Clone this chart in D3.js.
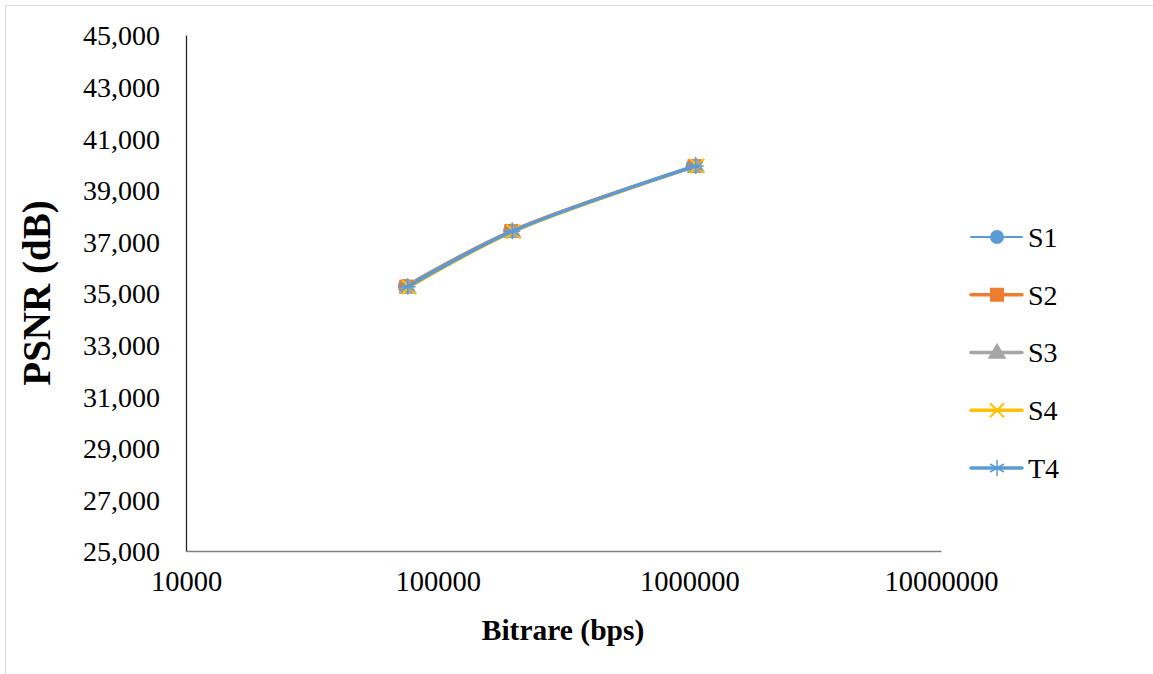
<!DOCTYPE html>
<html>
<head>
<meta charset="utf-8">
<script src="https://cdn.jsdelivr.net/npm/d3@7"></script>
<style>
  body { margin: 0; background: #fff; }
</style>
</head>
<body>
<div id="chart"></div>
<script>
// data
var seriesNames = ["S1", "S2", "S3", "S4", "T4"];
var seriesColors = ["#5b9bd5", "#ed7d31", "#a5a5a5", "#ffc000", "#5b9bd5"];
var seriesWidths = [2, 3, 3, 3, 3.5];
var bitrates = [
  [74000, 194000, 1030000],
  [75000, 196000, 1050000],
  [76000, 198000, 1060000],
  [77000, 200000, 1075000],
  [76000, 198000, 1060000]
];
var psnr = [
  [35.27, 37.40, 39.92],
  [35.25, 37.40, 39.92],
  [35.22, 37.38, 39.92],
  [35.22, 37.38, 39.92],
  [35.24, 37.39, 39.92]
];
var xTicks = [10000, 100000, 1000000, 10000000];
var yTicks = [25, 27, 29, 31, 33, 35, 37, 39, 41, 43, 45];

(function() {
var W = 1153, H = 674;
var mLeft = 186, mRight = 941, mTop = 35, mBottom = 551;
var serif = "'Liberation Serif', 'Times New Roman', Tinos, 'DejaVu Serif', serif";

var svg = d3.select("#chart").append("svg")
  .attr("width", W).attr("height", H);

// chart border
svg.append("rect")
  .attr("x", 5.5).attr("y", 5.5)
  .attr("width", W + 10).attr("height", H + 10)
  .attr("fill", "#fff").attr("stroke", "#d9d9d9").attr("stroke-width", 1);

var x = d3.scaleLog().domain([10000, 10000000]).range([mLeft, mRight]);
var y = d3.scaleLinear().domain([25, 45]).range([mBottom, mTop]);

// y axis
var yAxis = svg.append("g")
  .attr("transform", "translate(" + mLeft + ",0)")
  .call(d3.axisLeft(y).tickValues(yTicks).tickSize(0).tickPadding(26)
    .tickFormat(function(d) { return d3.format(",")(d * 1000); }));
yAxis.attr("font-family", serif);
yAxis.select(".domain").attr("stroke", "#262626").attr("stroke-width", 1.3);
yAxis.selectAll("text").attr("font-size", 28).attr("dy", "0.35em")
  .attr("fill", "#000").style("font-family", serif);

// x axis
var xAxis = svg.append("g")
  .attr("transform", "translate(0," + mBottom + ")")
  .call(d3.axisBottom(x).tickValues(xTicks).tickSize(0).tickPadding(20)
    .tickFormat(d3.format("d")));
xAxis.attr("font-family", serif);
xAxis.select(".domain").attr("stroke", "#808080").attr("stroke-width", 1.5);
xAxis.selectAll("text").attr("font-size", 28.5).attr("dy", "0.71em")
  .attr("fill", "#000").style("font-family", serif);

// axis titles
svg.append("text")
  .attr("x", 563).attr("y", 640)
  .attr("text-anchor", "middle")
  .style("font-family", serif)
  .attr("font-size", 29.5).attr("font-weight", "bold")
  .text("Bitrare (bps)");

svg.append("text")
  .attr("transform", "translate(50,293) rotate(-90)")
  .attr("text-anchor", "middle")
  .style("font-family", serif)
  .attr("font-size", 39).attr("font-weight", "bold")
  .text("PSNR (dB)");

var line = d3.line()
  .x(function(d) { return x(d[0]); })
  .y(function(d) { return y(d[1]); })
  .curve(d3.curveCatmullRom.alpha(0.5));

function drawMarker(g, i, cx, cy) {
  var c = seriesColors[i];
  if (i === 0) {
    g.append("circle").attr("cx", cx).attr("cy", cy).attr("r", 7).attr("fill", c);
  } else if (i === 1) {
    g.append("rect").attr("x", cx - 7).attr("y", cy - 7)
      .attr("width", 14).attr("height", 14).attr("fill", c);
  } else if (i === 2) {
    g.append("path").attr("d", d3.symbol().type(d3.symbolTriangle).size(150)())
      .attr("transform", "translate(" + cx + "," + (cy + 1) + ")").attr("fill", c);
  } else if (i === 3) {
    g.append("path")
      .attr("d", "M" + (cx - 7) + "," + (cy - 7) + "L" + (cx + 7) + "," + (cy + 7) +
                 "M" + (cx - 7) + "," + (cy + 7) + "L" + (cx + 7) + "," + (cy - 7))
      .attr("stroke", c).attr("stroke-width", 2).attr("fill", "none");
  } else {
    var p = "";
    [0, 60, 120].forEach(function(a) {
      var r = a * Math.PI / 180;
      var dx = Math.sin(r) * 8, dy = Math.cos(r) * 8;
      p += "M" + (cx - dx) + "," + (cy - dy) + "L" + (cx + dx) + "," + (cy + dy);
    });
    p += "M" + (cx - 8) + "," + cy + "L" + (cx + 8) + "," + cy;
    g.append("path").attr("d", p)
      .attr("stroke", c).attr("stroke-width", 1.5).attr("fill", "none");
  }
}

var plot = svg.append("g");
seriesNames.forEach(function(name, i) {
  var pts = bitrates[i].map(function(b, j) { return [b, psnr[i][j]]; });
  var g = plot.append("g");
  g.append("path").datum(pts)
    .attr("d", line)
    .attr("fill", "none")
    .attr("stroke", seriesColors[i])
    .attr("stroke-width", seriesWidths[i])
    .attr("stroke-linecap", "round");
  pts.forEach(function(p) { drawMarker(g, i, x(p[0]), y(p[1])); });
});

// legend
var legY = d3.scaleLinear().domain([0, 4]).range([237, 468]);
seriesNames.forEach(function(name, i) {
  var g = svg.append("g");
  var ly = legY(i);
  g.append("line")
    .attr("x1", 971).attr("x2", 1022).attr("y1", ly).attr("y2", ly)
    .attr("stroke", seriesColors[i])
    .attr("stroke-width", i === 0 ? 2 : 3.5)
    .attr("stroke-linecap", "round");
  drawMarker(g, i, 997, ly);
  g.append("text")
    .attr("x", 1028).attr("y", ly).attr("dy", "0.35em")
    .style("font-family", serif)
    .attr("font-size", 28)
    .text(name);
});
})();
</script>
</body>
</html>
